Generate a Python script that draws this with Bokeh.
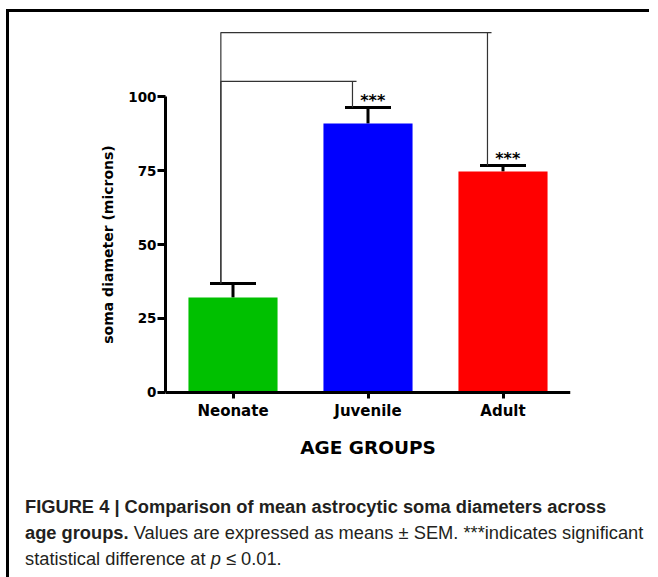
from bokeh.plotting import figure
from bokeh.models import (FactorRange, Range1d, FixedTicker, ColumnDataSource,
                          Whisker, TeeHead, Div)
from bokeh.layouts import column
from bokeh.core.properties import value
from bokeh.embed import file_html
from bokeh.resources import INLINE

# ---- data ----
categories = ["Neonate", "Juvenile", "Adult"]
means = [32.1, 90.9, 74.7]
sems = [4.7, 5.4, 2.0]
colors = ["#00C000", "#0000FF", "#FF0000"]
y_ticks = [0, 25, 50, 75, 100]
sig_labels = ["", "***", "***"]
# significance brackets: (group a, group b, bracket level)
bracket_a = ["Neonate", "Neonate"]
bracket_b = ["Juvenile", "Adult"]
bracket_levels = [105.1, 121.6]

FONT = "DejaVu Sans"

uppers = [m + s for m, s in zip(means, sems)]
src = ColumnDataSource(dict(cat=categories, mean=means, upper=uppers, color=colors))

p = figure(x_range=FactorRange(factors=categories, range_padding=0),
           y_range=Range1d(-25.34, 125.34),
           width=630, height=462, output_backend="svg", toolbar_location=None,
           min_border_left=156, min_border_right=69, min_border_top=9,
           min_border_bottom=7)
p.outline_line_color = None
p.xgrid.visible = False
p.ygrid.visible = False
p.background_fill_color = "white"
p.border_fill_color = "white"

p.vbar(x="cat", top="mean", width=0.66, source=src, fill_color="color",
       line_color=None)

w = Whisker(source=src, base="cat", upper="upper", lower="mean",
            line_width=3, line_color="black",
            upper_head=TeeHead(size=46, line_width=3, line_color="black"),
            lower_head=None)
p.add_layout(w)

# significance brackets
pos = {c: i + 0.5 for i, c in enumerate(categories)}
top_of = dict(zip(categories, uppers))
lead_l, lead_r, over = 0.09, 0.115, 0.03
xs, ys = [], []
for a, b, lvl in zip(bracket_a, bracket_b, bracket_levels):
    xa = pos[a] - lead_l
    xb = pos[b] - lead_r
    xs.append([xa, xa, xb + over])
    ys.append([top_of[a], lvl, lvl])
    xs.append([xb, xb])
    ys.append([lvl, top_of[b]])
p.multi_line(xs=xs, ys=ys, line_color="#333333", line_width=1.2)

sx = [pos[c] + 0.035 for c, s in zip(categories, sig_labels) if s]
sy = [u + 2.2 for u, s in zip(uppers, sig_labels) if s]
st = [s for s in sig_labels if s]
p.text(x=sx, y=sy, text=st, text_font=value(FONT), text_font_style="bold",
       text_font_size="16px", text_align="center", text_baseline="alphabetic",
       text_color="black")

# axes
for ax in (p.xaxis[0], p.yaxis[0]):
    ax.axis_line_width = 3
    ax.axis_line_color = "black"
    ax.major_tick_line_width = 3
    ax.major_tick_line_color = "black"
    ax.major_tick_in = 0
    ax.minor_tick_line_color = None
    ax.major_label_text_font = FONT
    ax.major_label_text_font_style = "bold"
    ax.major_label_text_color = "black"
    ax.axis_label_text_font = FONT
    ax.axis_label_text_font_style = "bold"
    ax.axis_label_text_color = "black"

p.yaxis.ticker = FixedTicker(ticks=y_ticks)
p.yaxis.bounds = (0, 100)
p.yaxis.major_tick_out = 8
p.yaxis.major_label_standoff = 1
p.yaxis.major_label_text_font_size = "13.5px"
p.yaxis.axis_label = "soma diameter (microns)"
p.yaxis.axis_label_text_font_size = "14px"
p.yaxis.axis_label_standoff = 9

p.xaxis.fixed_location = 0
p.xaxis.major_tick_out = 6
p.xaxis.major_label_standoff = 4
p.xaxis.major_label_text_font_size = "15px"
p.xaxis.axis_label = "AGE GROUPS"
p.xaxis.axis_label_text_font_size = "18.5px"
p.xaxis.axis_label_standoff = 13

caption_html = (
    '<div style="padding:15px 0 0 11px; white-space:nowrap; '
    "font-family:'Liberation Sans', Arial, sans-serif; font-size:18.3px; "
    'line-height:26px; color:#231f20;">'
    '<b>FIGURE 4 | Comparison of mean astrocytic soma diameters across</b><br>'
    '<b>age groups.</b> Values are expressed as means &plusmn; SEM. '
    '***indicates significant<br>'
    'statistical difference at <i>p</i> &le; 0.01.'
    '</div>'
)
cap = Div(text=caption_html, width=630, height=95)

layout = column(p, cap, styles={"border-left": "3px solid black",
                                "border-top": "3px solid black",
                                "margin-left": "6px", "margin-top": "9px"})

open("out.html", "w").write(file_html(layout, INLINE))
